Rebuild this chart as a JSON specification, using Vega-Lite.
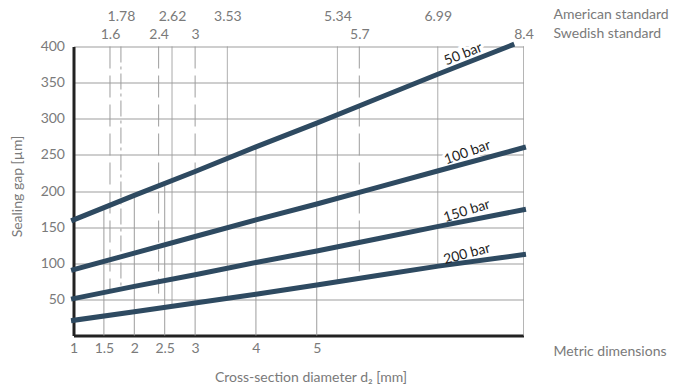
{
  "$schema": "https://vega.github.io/schema/vega-lite/v6.json",
  "width": 450,
  "height": 289,
  "autosize": "none",
  "padding": {"left": 73.5, "top": 46.5, "right": 154.5, "bottom": 53.5},
  "background": "white",
  "config": {
    "font": "Lato",
    "view": {"stroke": null},
    "axis": {
      "labelFont": "Lato",
      "titleFont": "Lato",
      "labelColor": "#7a7a7a",
      "titleColor": "#7a7a7a",
      "labelFontSize": 14,
      "titleFontSize": 14,
      "titleFontWeight": "normal",
      "ticks": false
    }
  },
  "datasets": {
    "metric": [
      {"d": 1.5, "gap": 0, "gap2": 177},
      {"d": 2, "gap": 0, "gap2": 194},
      {"d": 2.5, "gap": 0, "gap2": 210},
      {"d": 3, "gap": 0, "gap2": 227},
      {"d": 4, "gap": 0, "gap2": 261},
      {"d": 5, "gap": 0, "gap2": 294}
    ],
    "standard": [
      {"d": 1.6, "gap": 400, "gap2": 62, "line": "dashed"},
      {"d": 1.78, "gap": 400, "gap2": 62, "line": "dash-dot"},
      {"d": 2.4, "gap": 400, "gap2": 58, "line": "dashed"},
      {"d": 2.62, "gap": 400, "gap2": 42, "line": "solid"},
      {"d": 3, "gap": 400, "gap2": 227, "line": "dashed"},
      {"d": 3.53, "gap": 400, "gap2": 50, "line": "solid"},
      {"d": 5.34, "gap": 400, "gap2": 76, "line": "solid"},
      {"d": 5.7, "gap": 400, "gap2": 80, "line": "dashed"},
      {"d": 6.99, "gap": 400, "gap2": 96, "line": "solid"},
      {"d": 8.4, "gap": 400, "gap2": 0, "line": "solid"}
    ],
    "curves": [
      {"series": "50 bar", "d": 1, "gap": 160},
      {"series": "50 bar", "d": 2, "gap": 194},
      {"series": "50 bar", "d": 3, "gap": 227},
      {"series": "50 bar", "d": 4, "gap": 261},
      {"series": "50 bar", "d": 5, "gap": 294},
      {"series": "50 bar", "d": 6, "gap": 328},
      {"series": "50 bar", "d": 7, "gap": 362},
      {"series": "50 bar", "d": 8.21, "gap": 402},
      {"series": "100 bar", "d": 1, "gap": 91},
      {"series": "100 bar", "d": 2, "gap": 114},
      {"series": "100 bar", "d": 3, "gap": 137},
      {"series": "100 bar", "d": 4, "gap": 160},
      {"series": "100 bar", "d": 5, "gap": 182},
      {"series": "100 bar", "d": 6, "gap": 205},
      {"series": "100 bar", "d": 7, "gap": 228},
      {"series": "100 bar", "d": 8.4, "gap": 260},
      {"series": "150 bar", "d": 1, "gap": 51},
      {"series": "150 bar", "d": 2, "gap": 68},
      {"series": "150 bar", "d": 3, "gap": 84},
      {"series": "150 bar", "d": 4, "gap": 101},
      {"series": "150 bar", "d": 5, "gap": 117},
      {"series": "150 bar", "d": 6, "gap": 134},
      {"series": "150 bar", "d": 7, "gap": 151},
      {"series": "150 bar", "d": 8.4, "gap": 174},
      {"series": "200 bar", "d": 1, "gap": 21},
      {"series": "200 bar", "d": 2, "gap": 33},
      {"series": "200 bar", "d": 3, "gap": 45},
      {"series": "200 bar", "d": 4, "gap": 57},
      {"series": "200 bar", "d": 5, "gap": 70},
      {"series": "200 bar", "d": 6, "gap": 83},
      {"series": "200 bar", "d": 7, "gap": 96},
      {"series": "200 bar", "d": 8.4, "gap": 112}
    ],
    "labels": [
      {"series": "50 bar", "d": 7.41, "gap": 389},
      {"series": "100 bar", "d": 7.48, "gap": 253},
      {"series": "150 bar", "d": 7.47, "gap": 172},
      {"series": "200 bar", "d": 7.47, "gap": 112.5}
    ]
  },
  "layer": [
    {
      "data": {"name": "metric"},
      "mark": {"type": "rule", "color": "#9d9d9d", "strokeWidth": 1},
      "encoding": {
        "x": {
          "field": "d", "type": "quantitative",
          "scale": {"domain": [1, 8.4], "nice": false, "zero": false},
          "axis": {
            "orient": "bottom",
            "values": [1, 1.5, 2, 2.5, 3, 4, 5],
            "format": ".3~g",
            "grid": false,
            "domain": true, "domainColor": "#222222", "domainWidth": 3,
            "labelPadding": 6,
            "labelFlush": false,
            "title": "Cross-section diameter d₂ [mm]",
            "titleX": 237, "titleY": 45.5,
            "titleBaseline": "alphabetic"
          }
        },
        "y": {
          "field": "gap", "type": "quantitative",
          "scale": {"domain": [0, 400], "nice": false},
          "axis": {
            "values": [50, 100, 150, 200, 250, 300, 350, 400],
            "grid": true, "gridColor": "#9d9d9d", "gridWidth": 1,
            "domain": true, "domainColor": "#222222", "domainWidth": 3,
            "labelPadding": 9,
            "labelFlush": false,
            "title": "Sealing gap [µm]",
            "titleX": -49.5, "titleY": 139.5,
            "titleAngle": -90, "titleBaseline": "bottom", "titleAlign": "center"
          }
        },
        "y2": {"field": "gap2"}
      }
    },
    {
      "data": {"name": "standard"},
      "mark": {"type": "rule", "color": "#9d9d9d", "strokeWidth": 1},
      "encoding": {
        "x": {
          "field": "d", "type": "quantitative",
          "axis": {
            "orient": "top",
            "values": [1.6, 2.4, 3, 5.7, 8.4],
            "format": ".3~g",
            "grid": false, "domain": false,
            "labelPadding": 5,
            "labelFlush": false,
            "title": "Swedish standard",
            "titleX": 479.5, "titleY": -9.5,
            "titleAlign": "left", "titleBaseline": "alphabetic", "titleAngle": 0
          }
        },
        "y": {"field": "gap", "type": "quantitative"},
        "y2": {"field": "gap2"},
        "strokeDash": {
          "field": "line", "type": "nominal",
          "scale": {"domain": ["solid", "dashed", "dash-dot"], "range": [[1, 0], [22, 7], [16, 4, 3, 4]]},
          "legend": null
        }
      }
    },
    {
      "data": {"name": "labels"},
      "mark": {"type": "text", "fill": "white", "stroke": "white", "strokeWidth": 6, "fontSize": 14, "font": "Lato", "align": "center", "baseline": "middle"},
      "encoding": {
        "x": {
          "field": "d", "type": "quantitative",
          "axis": {
            "orient": "bottom",
            "labels": false, "grid": false, "domain": false,
            "title": "Metric dimensions",
            "titleX": 479.5, "titleY": 19.5,
            "titleAlign": "left", "titleBaseline": "alphabetic", "titleAngle": 0
          }
        },
        "y": {"field": "gap", "type": "quantitative"},
        "text": {"field": "series"},
        "angle": {
          "field": "series", "type": "nominal",
          "scale": {"domain": ["50 bar", "100 bar", "150 bar", "200 bar"], "range": [338.2, 344.9, 349, 351.8]},
          "legend": null
        }
      }
    },
    {
      "data": {"name": "curves"},
      "mark": {"type": "line", "color": "#2e4a61", "strokeWidth": 5, "strokeCap": "square"},
      "encoding": {
        "x": {
          "field": "d", "type": "quantitative",
          "axis": {
            "orient": "top",
            "values": [1.78, 2.62, 3.53, 5.34, 6.99],
            "format": ".3~g",
            "grid": false, "domain": false,
            "labelPadding": 5,
            "offset": 18,
            "labelFlush": false,
            "title": "American standard",
            "titleX": 479.5, "titleY": -10,
            "titleAlign": "left", "titleBaseline": "alphabetic", "titleAngle": 0
          }
        },
        "y": {"field": "gap", "type": "quantitative"},
        "detail": {"field": "series", "type": "nominal"}
      }
    },
    {
      "data": {"name": "labels"},
      "mark": {"type": "text", "fill": "#1f1f1f", "fontSize": 14, "font": "Lato", "align": "center", "baseline": "middle"},
      "encoding": {
        "x": {"field": "d", "type": "quantitative", "axis": null},
        "y": {"field": "gap", "type": "quantitative"},
        "text": {"field": "series"},
        "angle": {
          "field": "series", "type": "nominal",
          "scale": {"domain": ["50 bar", "100 bar", "150 bar", "200 bar"], "range": [338.2, 344.9, 349, 351.8]},
          "legend": null
        }
      }
    }
  ],
  "resolve": {"axis": {"x": "independent"}}
}
